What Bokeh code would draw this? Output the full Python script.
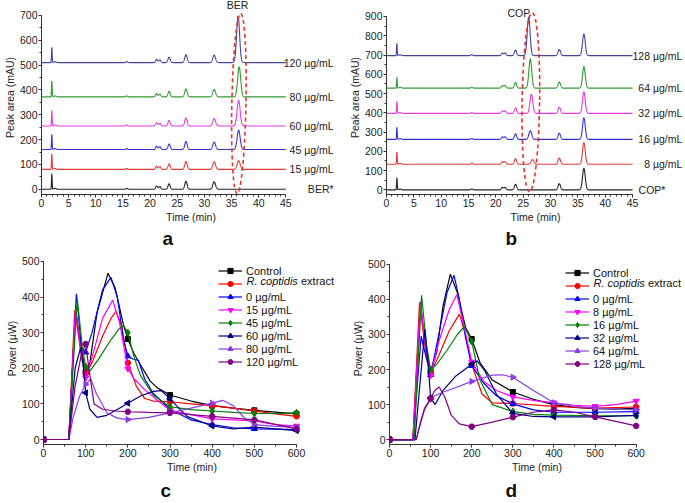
import numpy as np
from bokeh.plotting import figure
from bokeh.layouts import column, row
from bokeh.models import Range1d, Legend, LegendItem, Label, Title, FixedTicker
from bokeh.core.properties import value
from bokeh.embed import file_html
from bokeh.resources import INLINE

FONT = "Liberation Sans"

# ---------------- panel a : BER chromatograms ----------------
a_labels = ["BER*", "15 µg/mL", "45 µg/mL", "60 µg/mL", "80 µg/mL", "120 µg/mL"]
a_baselines = [0, 80, 160, 255, 372, 510]
a_spike_heights = [62, 62, 61, 62, 64, 61]          # injection spike (~1.9 min)
a_common_times = [2.5, 15.7, 21.2, 21.8, 23.5, 26.6, 31.8]
a_common_heights = [4, 4, 13, 11, 22, 32, 30]
a_ber_times = [36.3, 36.3, 36.3, 36.3, 36.4, 36.2]
a_ber_heights = [0, 35, 78, 103, 121, 186]
a_colors = ["#222222", "#e23a3a", "#3434d6", "#e03ce0", "#339933", "#45459a"]

# ---------------- panel b : COP chromatograms ----------------
b_labels = ["COP*", "8 µg/mL", "16 µg/mL", "32 µg/mL", "64 µg/mL", "128 µg/mL"]
b_baselines = [0, 133, 262, 397, 528, 697]
b_spike_heights = [62, 63, 63, 62, 56, 63]
b_common_times = [2.5, 15.6, 21.2, 21.7, 23.6, 31.6, 36.1]
b_common_heights = [4, 5, 13, 13, 29, 32, 112]
b_cop_times = [26.3, 26.7, 26.3, 26.5, 26.3, 26.0]
b_cop_heights = [0, 24, 45, 100, 152, 200]
b_colors = a_colors

# ---------------- panel c : calorimetry, BER ----------------
c_names = ["Control", "R. coptidis extract", "0 µg/mL", "15 µg/mL", "45 µg/mL",
           "60 µg/mL", "80 µg/mL", "120 µg/mL"]
c_time = [
    [0, 60, 76, 90, 100, 110, 127, 153, 170, 190, 200, 215, 230, 253, 270, 300, 350, 400, 450, 500, 550, 600],
    [0, 60, 74, 88, 100, 115, 140, 160, 172, 185, 200, 220, 240, 260, 300, 350, 400, 450, 500, 550, 600],
    [0, 60, 78, 90, 100, 115, 140, 160, 175, 190, 200, 212, 225, 240, 260, 300, 350, 400, 450, 500, 550, 600],
    [0, 60, 76, 90, 100, 115, 140, 164, 180, 200, 215, 240, 270, 300, 350, 400, 450, 500, 550, 600],
    [0, 60, 80, 92, 100, 110, 130, 160, 180, 190, 200, 215, 230, 260, 300, 350, 400, 450, 500, 550, 600],
    [0, 60, 75, 88, 95, 100, 110, 127, 150, 180, 200, 230, 260, 280, 300, 340, 400, 450, 500, 550, 600],
    [0, 60, 70, 85, 100, 112, 125, 150, 175, 200, 250, 300, 350, 400, 425, 450, 475, 500, 550, 600],
    [0, 60, 75, 90, 100, 110, 120, 140, 170, 200, 250, 300, 400, 500, 600],
]
c_power = [
    [0, 0, 367, 250, 190, 215, 356, 467, 425, 320, 282, 240, 210, 164, 145, 125, 108, 95, 88, 82, 77, 72],
    [0, 0, 363, 250, 185, 215, 290, 340, 360, 320, 215, 150, 115, 108, 106, 100, 95, 88, 80, 72, 65],
    [0, 0, 409, 260, 245, 300, 420, 455, 400, 280, 234, 226, 222, 170, 130, 85, 55, 42, 33, 30, 29, 28],
    [0, 0, 367, 230, 173, 230, 340, 391, 330, 199, 170, 140, 110, 82, 70, 58, 55, 52, 42, 38],
    [0, 0, 395, 260, 205, 192, 225, 280, 312, 320, 300, 230, 180, 125, 92, 84, 80, 76, 73, 73, 75],
    [0, 0, 200, 258, 200, 131, 85, 62, 68, 88, 102, 122, 135, 137, 114, 65, 38, 30, 35, 30, 25],
    [0, 0, 60, 120, 155, 170, 130, 75, 60, 56, 62, 75, 88, 102, 110, 95, 62, 42, 37, 35],
    [0, 0, 150, 240, 268, 180, 100, 85, 80, 78, 76, 75, 65, 55, 30],
]

# ---------------- panel d : calorimetry, COP ----------------
d_names = ["Control", "R. coptidis extract", "0 µg/mL", "8 µg/mL", "16 µg/mL",
           "32 µg/mL", "64 µg/mL", "128 µg/mL"]
d_time = [
    [0, 57, 75, 88, 100, 115, 130, 148, 165, 185, 200, 220, 250, 300, 350, 400, 450, 500, 550, 600],
    [0, 57, 73, 88, 100, 120, 145, 170, 185, 200, 225, 250, 300, 400, 500, 600],
    [0, 57, 77, 88, 100, 120, 140, 157, 170, 185, 200, 230, 260, 300, 350, 400, 500, 600],
    [0, 57, 75, 88, 100, 120, 145, 164, 180, 200, 230, 260, 300, 350, 400, 450, 500, 550, 600],
    [0, 60, 78, 90, 100, 115, 140, 165, 182, 200, 220, 250, 300, 350, 400, 500, 600],
    [0, 62, 86, 95, 100, 111, 130, 160, 200, 213, 230, 260, 300, 350, 400, 500, 600],
    [0, 65, 75, 85, 100, 110, 130, 160, 200, 250, 275, 300, 350, 400, 450, 500, 550, 600],
    [0, 65, 75, 85, 100, 110, 121, 135, 150, 170, 200, 250, 300, 350, 400, 450, 500, 550, 600],
]
d_power = [
    [0, 0, 393, 260, 195, 250, 380, 472, 420, 320, 287, 220, 170, 136, 115, 100, 92, 88, 87, 90],
    [0, 0, 391, 250, 190, 240, 310, 358, 300, 215, 130, 105, 103, 95, 90, 93],
    [0, 0, 295, 240, 185, 300, 420, 469, 400, 290, 211, 160, 125, 102, 85, 78, 78, 80],
    [0, 0, 392, 260, 183, 280, 370, 414, 330, 222, 165, 140, 122, 112, 105, 98, 95, 100, 110],
    [0, 0, 412, 270, 200, 215, 255, 300, 322, 280, 170, 100, 80, 72, 70, 68, 68],
    [0, 0, 316, 200, 119, 100, 140, 180, 215, 225, 200, 130, 75, 66, 65, 65, 69],
    [0, 0, 50, 90, 117, 125, 135, 148, 166, 184, 185, 178, 140, 105, 95, 90, 88, 85],
    [0, 0, 45, 85, 117, 140, 150, 120, 70, 45, 37, 50, 64, 78, 85, 78, 65, 52, 39],
]

cal_colors = ["#000000", "#ff0000", "#0000ff", "#ff00ff", "#008000", "#000080", "#8a3ce6", "#800080"]
cal_markers = [("square", 0.0, 5), ("circle", 0.0, 5.5), ("triangle", 0.0, 6), ("inverted_triangle", 0.0, 6),
               ("diamond", 0.0, 7), ("triangle", np.pi / 2, 6), ("triangle", -np.pi / 2, 6), ("hex", 0.0, 6)]


def base_fig(w, h, xr, yr, mbl, mbt, mbb):
    p = figure(width=w, height=h, x_range=Range1d(*xr), y_range=Range1d(*yr),
               output_backend="svg", toolbar_location=None, title=None,
               min_border_left=mbl, min_border_right=0, min_border_top=mbt, min_border_bottom=mbb)
    p.outline_line_color = None
    p.xgrid.visible = False
    p.ygrid.visible = False
    return p


def style_axes(p, xt, xm, yt, ym, xb, yb, xl, yl):
    p.xaxis.ticker = FixedTicker(ticks=xt, minor_ticks=xm)
    p.yaxis.ticker = FixedTicker(ticks=yt, minor_ticks=ym)
    p.xaxis.bounds = xb
    p.yaxis.bounds = yb
    p.xaxis.axis_label = xl
    p.yaxis.axis_label = yl
    for ax in (p.xaxis[0], p.yaxis[0]):
        ax.axis_label_text_font = FONT
        ax.axis_label_text_font_size = "10.5px"
        ax.axis_label_text_font_style = "normal"
        ax.axis_label_text_color = "#222222"
        ax.axis_label_standoff = 1
        ax.major_label_text_font = FONT
        ax.major_label_text_font_size = "10.5px"
        ax.major_label_text_color = "#222222"
        ax.major_label_standoff = 1
        ax.major_tick_in = 0
        ax.major_tick_out = 3
        ax.minor_tick_in = 0
        ax.minor_tick_out = 2
        ax.axis_line_color = "#333333"
        ax.major_tick_line_color = "#333333"
        ax.minor_tick_line_color = "#333333"


def panel_letter(p, letter, offset, standoff):
    p.add_layout(Title(text=letter, align="left", offset=offset, text_font=FONT,
                       text_font_size="19px", text_font_style="bold", text_color="#111111",
                       standoff=standoff), "below")


def chromatogram(p, baselines, spikes, ctimes, cheights, vtimes, vheights, colors, var_w):
    t = np.arange(0, 45.0001, 0.02)
    common_w = [0.2, 0.15, 0.18, 0.18, 0.2, 0.22, 0.25, 0.3]
    for i, b in enumerate(baselines):
        y = np.full_like(t, float(b))
        y += spikes[i] * np.exp(-0.5 * ((t - 1.9) / 0.06) ** 2)
        for k, (rt, hh) in enumerate(zip(ctimes, cheights)):
            y += hh * np.exp(-0.5 * ((t - rt) / common_w[k]) ** 2)
        y += vheights[i] * np.exp(-0.5 * ((t - vtimes[i]) / var_w) ** 2)
        p.line(t, y, line_color=colors[i], line_width=1.1)


def calorimetry(p, names, times, powers, lx, ly):
    items = []
    for i, name in enumerate(names):
        col = cal_colors[i]
        m, ang, sz = cal_markers[i]
        lr = p.line(times[i], powers[i], line_color=col, line_width=1.2)
        mx = [tt for tt in times[i] if tt % 100 == 0]
        my = [pp for tt, pp in zip(times[i], powers[i]) if tt % 100 == 0]
        sr = p.scatter(mx, my, marker=m, angle=ang, size=sz, fill_color=col, line_color=col)
        items.append(LegendItem(label=(" " if i == 1 else name), renderers=[lr, sr]))
    leg = Legend(items=items, location=(lx, ly), padding=0, margin=0, spacing=0,
                 glyph_width=24, glyph_height=13, label_height=13, label_standoff=4,
                 label_text_font=FONT, label_text_font_size="11px", label_text_color="#111111",
                 background_fill_alpha=0, border_line_alpha=0)
    p.add_layout(leg, "center")
    row_h = 13.43
    tx = lx + 24 + 4
    ty = ly + 8 * row_h - row_h * 1.5
    p.add_layout(Label(x=tx, y=ty, x_units="screen", y_units="screen", text="R. coptidis",
                       text_font=FONT, text_font_size="11px", text_font_style="italic",
                       text_baseline="middle", text_color="#111111"))
    p.add_layout(Label(x=tx + 54.5, y=ty, x_units="screen", y_units="screen", text="extract",
                       text_font=FONT, text_font_size="11px",
                       text_baseline="middle", text_color="#111111"))


# ---------------- build panel a ----------------
pa = base_fig(340, 248, (0, 55.06), (-21, 760), 39, 0, 52)
chromatogram(pa, a_baselines, a_spike_heights, a_common_times, a_common_heights,
             a_ber_times, a_ber_heights, a_colors, 0.28)
pa.ellipse(x=[36.35], y=[345], width=2.6, height=725, angle=-0.02, fill_color=None,
           line_color="#e8322d", line_width=1.6, line_dash="4 3")
pa.text(x=[36.1], y=[740], text=["BER"], text_align="center", text_baseline="middle",
        text_font=value(FONT), text_font_size="10.5px", text_color="#222222")
pa.text(x=[53.78] * 6, y=a_baselines, text=a_labels, text_align="right", text_baseline="middle",
        text_font=value(FONT), text_font_size="10.5px", text_color="#222222")
style_axes(pa, list(range(0, 46, 5)), list(range(0, 46)), list(range(0, 701, 100)),
           list(range(0, 701, 50)), (0, 45), (-21, 700), "Time (min)", "Peak area (mAU)")
panel_letter(pa, "a", 121, 0)

# ---------------- build panel b ----------------
pb = base_fig(344, 248, (0, 54.5), (-24, 983), 46, 0, 51)
chromatogram(pb, b_baselines, b_spike_heights, b_common_times, b_common_heights,
             b_cop_times, b_cop_heights, b_colors, 0.26)
pb.ellipse(x=[26.4], y=[455], width=3.2, height=930, angle=-0.015, fill_color=None,
           line_color="#e8322d", line_width=1.6, line_dash="4 3")
pb.text(x=[24.2], y=[917], text=["COP"], text_align="center", text_baseline="middle",
        text_font=value(FONT), text_font_size="10.5px", text_color="#222222")
pb.text(x=[54.1] * 5, y=b_baselines[1:], text=b_labels[1:], text_align="right", text_baseline="middle",
        text_font=value(FONT), text_font_size="10.5px", text_color="#222222")
pb.text(x=[46.1], y=b_baselines[:1], text=b_labels[:1], text_align="left", text_baseline="middle",
        text_font=value(FONT), text_font_size="10.5px", text_color="#222222")
style_axes(pb, list(range(0, 46, 5)), list(range(0, 46)), list(range(0, 901, 100)),
           list(range(0, 901, 50)), (0, 45), (-24, 900), "Time (min)", "Peak area (mAU)")
panel_letter(pb, "b", 119, 0)

# ---------------- build panel c ----------------
pc = base_fig(340, 254, (0, 704.3), (-14, 525), 43, 2, 58)
calorimetry(pc, c_names, c_time, c_power, 175, 76)
style_axes(pc, list(range(0, 601, 100)), list(range(0, 601, 50)), list(range(0, 501, 100)),
           list(range(0, 501, 50)), (0, 600), (-14, 500), "Time (min)", "Power (µW)")
panel_letter(pc, "c", 117, 4)

# ---------------- build panel d ----------------
pd_ = base_fig(344, 254, (0, 717.6), (-14, 534), 49, 4, 57)
calorimetry(pd_, d_names, d_time, d_power, 176, 74)
style_axes(pd_, list(range(0, 601, 100)), list(range(0, 601, 50)), list(range(0, 501, 100)),
           list(range(0, 501, 50)), (0, 600), (-14, 500), "Time (min)", "Power (µW)")
panel_letter(pd_, "d", 116, 4)

layout = column(row(pa, pb), row(pc, pd_))
open("out.html", "w").write(file_html(layout, INLINE))
